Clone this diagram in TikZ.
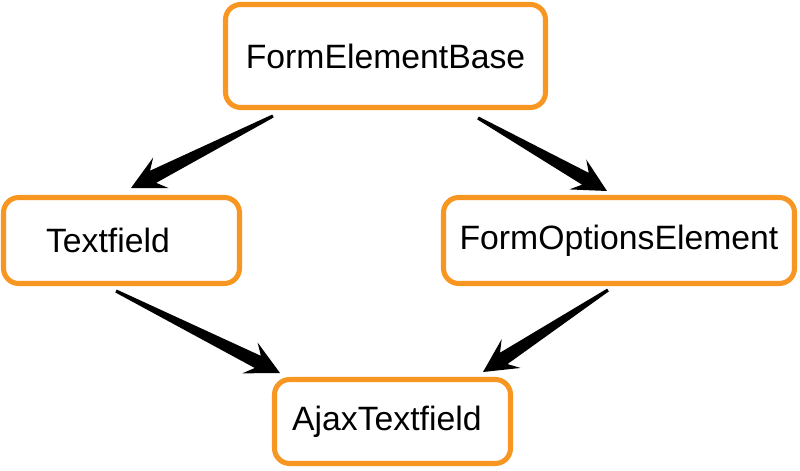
\documentclass[tikz,border=0pt]{standalone}
\usepackage{fontspec}
\setmainfont{Liberation Sans}
\usepackage{tikz}
\usepackage{xcolor}
\usetikzlibrary{calc, positioning}
\definecolor{classOrange}{RGB}{248,150,34}
\definecolor{classInk}{RGB}{0,0,0}

% tapered arrow from tail #1 to tip #2
\newcommand{\taperarrow}[2]{%
  \coordinate (neck) at ($(#2)!0.62cm!(#1)$);
  \coordinate (barb) at ($(#2)!0.84cm!(#1)$);
  \fill[classInk] ($(#1)!0.04cm!90:(#2)$) -- ($(neck)!0.17cm!90:(#2)$)
    -- ($(barb)!0.43cm!90:(#2)$) -- (#2) -- ($(barb)!0.43cm!-90:(#2)$)
    -- ($(neck)!0.17cm!-90:(#2)$) -- ($(#1)!0.04cm!-90:(#2)$) -- cycle;
}

\begin{document}
\begin{tikzpicture}[
      cls/.style={draw=classOrange, line width=3.6pt, rounded corners=0.38cm,
        fill=white, inner sep=0pt, font=\fontsize{24}{28}\selectfont, text=classInk}
    ]
    \useasboundingbox (0,0) rectangle (20,11.775);

    \node[cls, minimum width=8.0cm, minimum height=2.575cm] (base) at (9.6375,10.375) {FormElementBase};
    \node[cls, minimum width=5.9cm, minimum height=2.15cm] (text) at (3.0375,5.7625) {\hspace*{-0.68cm}Textfield};
    \node[cls, minimum width=8.775cm, minimum height=2.15cm] (opts) at (15.475,5.7625) {FormOptionsElement};
    \node[cls, minimum width=5.9cm, minimum height=2.1cm] (ajax) at (9.8125,1.2375) {\hspace*{-0.28cm}AjaxTextfield};

    % arrow ends
    \coordinate (base-l) at (6.825,8.875);
    \coordinate (text-in) at (3.275,7.075);
    \coordinate (base-r) at (11.95,8.825);
    \coordinate (opts-in) at (15.175,7.0);
    \coordinate (text-out) at (2.9,4.5);
    \coordinate (ajax-l) at (7.0,2.45);
    \coordinate (opts-out) at (15.2,4.525);
    \coordinate (ajax-r) at (12.075,2.475);

    \taperarrow{base-l}{text-in}
    \taperarrow{base-r}{opts-in}
    \taperarrow{text-out}{ajax-l}
    \taperarrow{opts-out}{ajax-r}
  \end{tikzpicture}
\end{document}
